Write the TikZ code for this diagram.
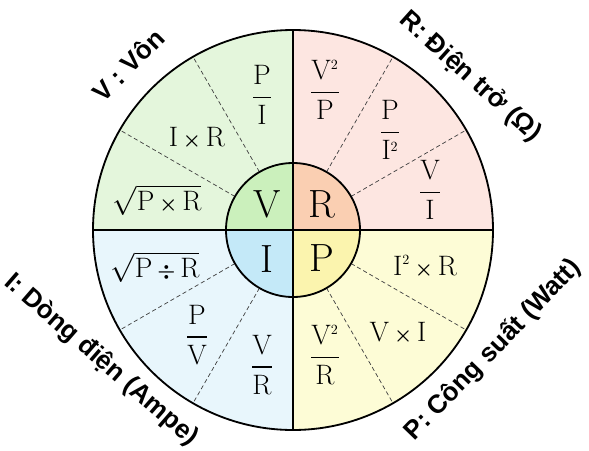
\documentclass[tikz,border=0pt]{standalone}
\usepackage{amsmath}
\usepackage{fontspec}
\newfontfamily\labelfont{Liberation Sans}
\usepackage{xcolor}
\usepackage{tikz}

\definecolor{vouter}{HTML}{E4F6DC}
\definecolor{vcore}{HTML}{CBF0BC}
\definecolor{router}{HTML}{FDE6E1}
\definecolor{rcore}{HTML}{FACFB2}
\definecolor{iouter}{HTML}{E8F6FC}
\definecolor{icore}{HTML}{C4E9F8}
\definecolor{pouter}{HTML}{FDFCD6}
\definecolor{pcore}{HTML}{FBF4AE}

\newcommand{\mul}{\,{\scriptstyle\boldsymbol{\times}}\,}
\newcommand{\dvd}{\,{\scriptstyle\boldsymbol{\div}}\,}

\begin{document}
\begin{tikzpicture}[
  sep/.style={draw=black!75, line width=0.5pt, dash pattern=on 3pt off 2pt},
  rim/.style={draw=black, line width=1.3pt},
  formula/.style={font=\fontsize{20}{22}\selectfont},
  core/.style={font=\fontsize{28}{30}\selectfont},
  unit/.style={font=\labelfont\bfseries\fontsize{18.5}{22}\selectfont}
]
  \useasboundingbox (-7.325,-5.5) rectangle (7.4,5.75);

  \fill[vouter] (0,0) -- (90:5) arc (90:180:5) -- cycle;
  \fill[router] (0,0) -- (0:5) arc (0:90:5) -- cycle;
  \fill[iouter] (0,0) -- (180:5) arc (180:270:5) -- cycle;
  \fill[pouter] (0,0) -- (270:5) arc (270:360:5) -- cycle;
  \fill[vcore] (0,0) -- (90:1.675) arc (90:180:1.675) -- cycle;
  \fill[rcore] (0,0) -- (0:1.675) arc (0:90:1.675) -- cycle;
  \fill[icore] (0,0) -- (180:1.675) arc (180:270:1.675) -- cycle;
  \fill[pcore] (0,0) -- (270:1.675) arc (270:360:1.675) -- cycle;

  \foreach \a in {30,60,120,150,210,240,300,330}
    \draw[sep] (\a:1.675) -- (\a:5);

  \draw[rim] (-5,0) -- (5,0) (0,-5) -- (0,5);
  \draw[rim] (0,0) circle (5) (0,0) circle (1.675);

  \node[core] (v) at (-0.64,0.64) {V};
  \node[core] (r) at (0.72,0.64) {R};
  \node[core] (i) at (-0.64,-0.72) {I};
  \node[core] (p) at (0.72,-0.70) {P};

  \node[formula] (v1) at (-0.775,3.375) {$\dfrac{\mathrm{P}}{\mathrm{I}}$};
  \node[formula] (v2) at (-2.4,2.3) {$\mathrm{I}\mul\mathrm{R}$};
  \node[formula] (v3) at (-3.4,0.75) {$\sqrt{\mathrm{P}\mul\mathrm{R}}$};

  \node[formula] (r1) at (0.8,3.5) {$\dfrac{\mathrm{V}^{\scriptscriptstyle 2}}{\mathrm{P}}$};
  \node[formula] (r2) at (2.425,2.5) {$\dfrac{\mathrm{P}}{\mathrm{I}^{\scriptscriptstyle 2}}$};
  \node[formula] (r3) at (3.425,1.0) {$\dfrac{\mathrm{V}}{\mathrm{I}}$};

  \node[formula] (i1) at (-3.45,-0.925) {$\sqrt{\mathrm{P}\dvd\mathrm{R}}$};
  \node[formula] (i2) at (-2.4,-2.625) {$\dfrac{\mathrm{P}}{\mathrm{V}}$};
  \node[formula] (i3) at (-0.775,-3.375) {$\dfrac{\mathrm{V}}{\mathrm{R}}$};

  \node[formula] (p1) at (3.3,-0.925) {$\mathrm{I}^{\scriptscriptstyle 2}\mul\mathrm{R}$};
  \node[formula] (p2) at (2.625,-2.575) {$\mathrm{V}\mul\mathrm{I}$};
  \node[formula] (p3) at (0.8,-3.125) {$\dfrac{\mathrm{V}^{\scriptscriptstyle 2}}{\mathrm{R}}$};

  \node[unit, rotate=45] (vname) at (-4.125,4.125) {V : Vôn};
  \node[unit, rotate=-42] (rname) at (4.425,3.825) {R: Điện trở (Ω)};
  \node[unit, rotate=-41] (iname) at (-4.8,-3.25) {I: Dòng điện (Ampe)};
  \node[unit, rotate=46] (pname) at (5.0,-3.0) {P: Công suất (Watt)};
\end{tikzpicture}
\end{document}
